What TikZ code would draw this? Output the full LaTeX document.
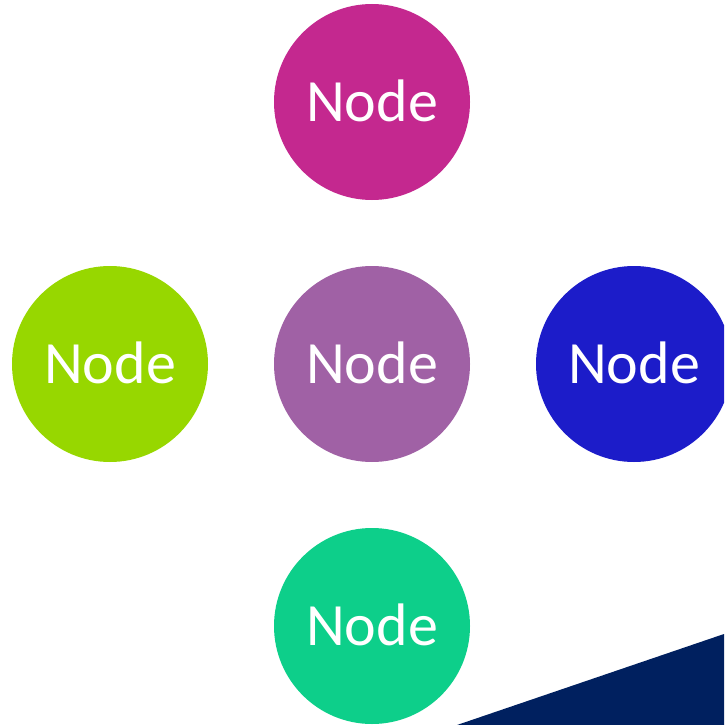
\documentclass[tikz,border=0pt]{standalone}
\usepackage{fontspec}
\setmainfont{Carlito}
\definecolor{cmag}{HTML}{C4288F}
\definecolor{cgreen}{HTML}{97D700}
\definecolor{cpurp}{HTML}{A061A5}
\definecolor{cblue}{HTML}{1C1CC9}
\definecolor{cteal}{HTML}{0DCF8A}
\definecolor{cnavy}{HTML}{00205F}
\begin{document}
\begin{tikzpicture}[x=1pt,y=-1pt,
  nodecircle/.style={circle,minimum size=196pt,inner sep=0pt,text=white,font=\fontsize{60}{61}\selectfont}]
\useasboundingbox (0,0) rectangle (724,725);
\begin{scope}
\clip (0,0) rectangle (724,725);
\fill[cnavy] (457,725) -- (724,634) -- (724,725) -- cycle;
\node[nodecircle,fill=cmag] (top) at (372,102) {\raisebox{2pt}{Node}};
\node[nodecircle,fill=cgreen] (left) at (110,364) {\raisebox{2pt}{Node}};
\node[nodecircle,fill=cpurp] (center) at (372,364) {\raisebox{2pt}{Node}};
\node[nodecircle,fill=cblue] (right) at (634,364) {\raisebox{2pt}{Node}};
\node[nodecircle,fill=cteal] (bottom) at (372,626) {\raisebox{2pt}{Node}};
\end{scope}
\end{tikzpicture}
\end{document}
